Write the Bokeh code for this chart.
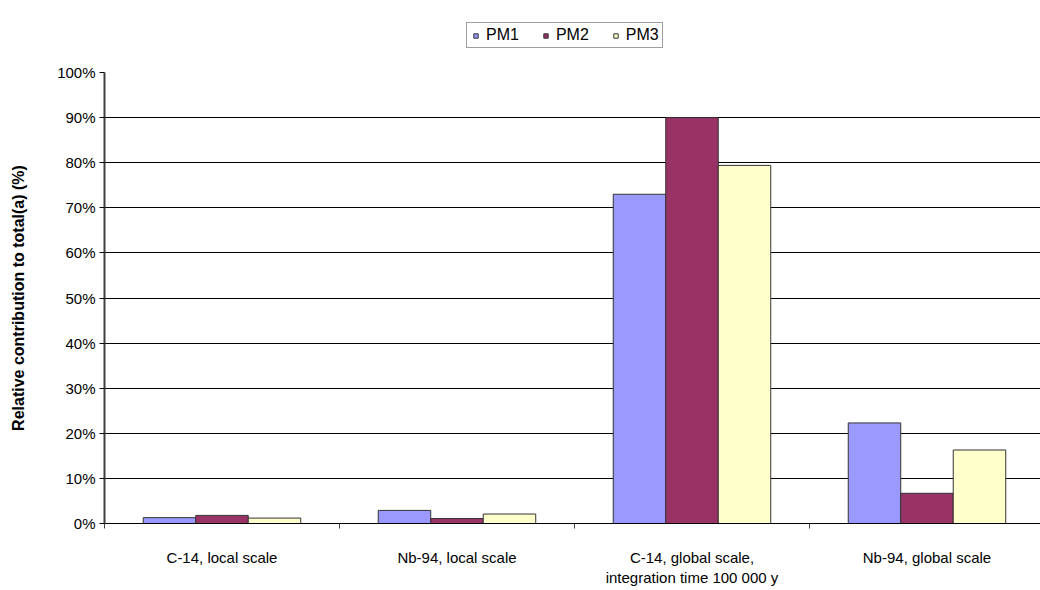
from bokeh.embed import file_html
from bokeh.layouts import column
from bokeh.models import (ColumnDataSource, FixedTicker, Legend, LegendItem,
                          Range1d)
from bokeh.plotting import figure
from bokeh.resources import INLINE

# Relative contribution (%) of each nuclide/scale case, per pathway model
categories = [
    "C-14, local scale",
    "Nb-94, local scale",
    "C-14, global scale,\nintegration time 100 000 y",
    "Nb-94, global scale",
]
series_names = ["PM1", "PM2", "PM3"]
pm1 = [1.3, 2.9, 73.0, 22.3]
pm2 = [1.8, 1.1, 90.0, 6.7]
pm3 = [1.2, 2.1, 79.4, 16.3]
y_ticks = [0, 10, 20, 30, 40, 50, 60, 70, 80, 90, 100]

colors = ["#9999FF", "#993366", "#FFFFCC"]
BAR_EDGE = "#333333"
FONT = "Liberation Sans"

n_cat = len(categories)
centers = [i + 0.5 for i in range(n_cat)]
boundaries = [float(i) for i in range(n_cat + 1)]
bar_w = 0.2234

sources = []
for k, vals in enumerate([pm1, pm2, pm3]):
    off = (k - 1) * bar_w
    sources.append(ColumnDataSource(dict(x=[c + off for c in centers], top=vals)))

# ---- main chart -------------------------------------------------------
p = figure(
    width=1040, height=528,
    x_range=Range1d(0, 3.983), y_range=Range1d(0, 100),
    output_backend="svg", toolbar_location=None,
    min_border_left=104, min_border_right=0,
    min_border_top=10, min_border_bottom=67,
)
p.outline_line_color = None
p.background_fill_color = "white"
p.border_fill_color = "white"

for src, col in zip(sources, colors):
    p.vbar(x="x", top="top", bottom=0, width=bar_w, source=src,
           fill_color=col, line_color=BAR_EDGE, line_width=1)

# y axis: percentages
p.yaxis.ticker = FixedTicker(ticks=y_ticks, minor_ticks=[])
p.yaxis.major_label_overrides = {t: f"{t}%" for t in y_ticks}
p.yaxis.major_label_text_font = FONT
p.yaxis.major_label_text_font_size = "15px"
p.yaxis.major_label_text_color = "black"
p.yaxis.major_tick_out = 5
p.yaxis.major_tick_in = 0
p.yaxis.major_tick_line_color = "black"
p.yaxis.minor_tick_line_color = None
p.yaxis.axis_line_color = "#404040"
p.yaxis.axis_line_width = 2
p.yaxis.major_label_standoff = 4
p.yaxis.axis_label = "Relative contribution to total(a) (%)"
p.yaxis.axis_label_text_font = FONT
p.yaxis.axis_label_text_font_size = "16px"
p.yaxis.axis_label_text_font_style = "bold"
p.yaxis.axis_label_text_color = "black"
p.yaxis.axis_label_standoff = 27

# x axis: labels at category centres, tick marks between categories
p.xaxis.ticker = FixedTicker(ticks=centers, minor_ticks=boundaries)
p.xaxis.major_label_overrides = {c: lab for c, lab in zip(centers, categories)}
p.xaxis.major_label_text_font = FONT
p.xaxis.major_label_text_font_size = "15px"
p.xaxis.major_label_text_color = "black"
p.xaxis.major_tick_line_color = None
p.xaxis.major_tick_out = 0
p.xaxis.major_tick_in = 0
p.xaxis.minor_tick_out = 5
p.xaxis.minor_tick_in = 0
p.xaxis.minor_tick_line_color = "#404040"
p.xaxis.axis_line_color = "black"
p.xaxis.major_label_standoff = 20

p.xgrid.grid_line_color = None
p.ygrid.ticker = FixedTicker(ticks=y_ticks)
p.ygrid.grid_line_color = "black"
p.ygrid.grid_line_width = 1

# ---- legend strip above the chart -------------------------------------
# Square markers fed by the same sources supply the legend swatches; the
# strip's ranges lie away from the data, so the markers themselves stay
# off the page.
lf = figure(
    width=1040, height=62,
    x_range=Range1d(20, 23.983), y_range=Range1d(-3, -2),
    output_backend="svg", toolbar_location=None,
    min_border_left=0, min_border_right=0, min_border_top=0, min_border_bottom=0,
)
lf.outline_line_color = None
lf.axis.visible = False
lf.grid.grid_line_color = None

items = []
for name, src, col in zip(series_names, sources, colors):
    swatch = lf.scatter(x="x", y="top", source=src, marker="square", size=9,
                        fill_color=col, line_color=BAR_EDGE, line_width=1)
    items.append(LegendItem(label=name, renderers=[swatch]))

legend = Legend(
    items=items,
    orientation="horizontal",
    location=(362, 14),
    label_text_font=FONT, label_text_font_size="16px", label_text_color="black",
    glyph_width=11, glyph_height=11, label_standoff=5, spacing=21,
    padding=3, margin=0, label_height=14,
    border_line_color="#404040", border_line_width=1,
    background_fill_color="white",
)
lf.add_layout(legend, "center")

layout = column(lf, p, spacing=0)
open("out.html", "w").write(file_html(layout, INLINE))
